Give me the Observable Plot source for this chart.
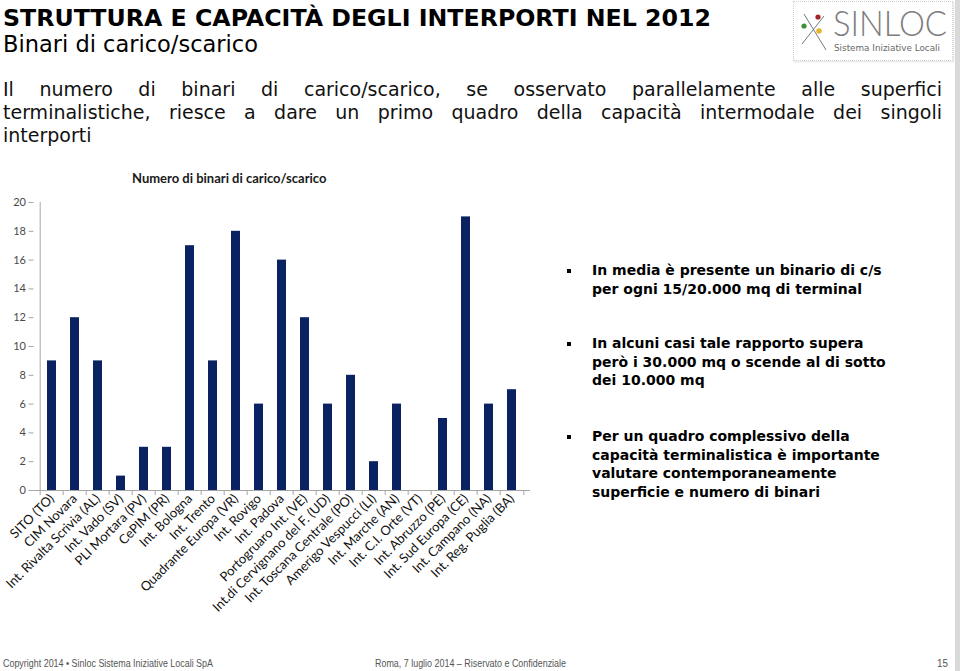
<!DOCTYPE html>
<html><head><meta charset="utf-8">
<script src="https://cdn.jsdelivr.net/npm/d3@7"></script>
<script src="https://cdn.jsdelivr.net/npm/@observablehq/plot@0.6"></script>
<style>
body{margin:0;background:#fff;}
#page{position:relative;width:960px;height:671px;overflow:hidden;background:#fff;font-family:"DejaVu Sans",Verdana,sans-serif;color:#000;}
.abs{position:absolute;white-space:nowrap;}
.just{position:absolute;left:3px;width:939px;text-align:justify;text-align-last:justify;white-space:nowrap;font-size:19px;line-height:23px;color:#111;}
.bul{position:absolute;left:592px;font-weight:bold;font-size:14px;line-height:18.5px;white-space:nowrap;}
.sq{position:absolute;left:567px;width:4px;height:4px;background:#000;}
.foot{position:absolute;top:657px;font-family:"Liberation Sans Narrow","Arial Narrow","Liberation Sans",sans-serif;font-size:11px;color:#555;white-space:nowrap;transform-origin:left center;}
</style></head><body><div id="page">
<div class="abs" id="title" style="left:3px;top:4px;font-weight:bold;font-size:23.5px;line-height:28px;">STRUTTURA E CAPACITÀ DEGLI INTERPORTI NEL 2012</div>
<div class="abs" id="subtitle" style="left:3px;top:31px;font-size:22.5px;line-height:27px;">Binari di carico/scarico</div>

<div id="logo" style="position:absolute;left:793px;top:1px;width:158px;height:58px;border:1px dotted #cfcfcf;box-shadow:1px 1px 2px #e2e2e2;background:#fff;">
<svg width="34" height="50" style="position:absolute;left:4px;top:6px">
<line x1="6" y1="6" x2="28" y2="42" stroke="#555" stroke-width="0.8"/>
<line x1="26" y1="8" x2="4" y2="36" stroke="#555" stroke-width="0.8"/>
<circle cx="20" cy="9" r="2.6" fill="#a3262a"/>
<circle cx="6" cy="18" r="2.6" fill="#3f8f3a"/>
<circle cx="21" cy="23" r="2.8" fill="#e5b632"/>
</svg>
<div class="abs" id="sinloc" style="left:39px;top:-1px;font-family:Lato,sans-serif;font-weight:300;font-size:35px;line-height:42px;color:#7d7d7d;">SINLOC</div>
<div class="abs" id="sinsub" style="left:40px;top:40px;font-family:'DejaVu Sans',sans-serif;font-size:8.5px;line-height:12px;color:#6a6a6a;">Sistema Iniziative Locali</div>
</div>

<div class="just" style="top:78px;">Il numero di binari di carico/scarico, se osservato parallelamente alle superfici</div>
<div class="just" style="top:101px;">terminalistiche, riesce a dare un primo quadro della capacità intermodale dei singoli</div>
<div class="abs" style="left:3px;top:124px;font-size:19px;line-height:23px;color:#111;">interporti</div>

<div class="abs" id="ctitle" style="left:132px;top:170px;font-family:Lato,sans-serif;font-weight:bold;font-size:13px;line-height:16px;color:#1a1a1a;">Numero di binari di carico/scarico</div>

<div id="chart" style="position:absolute;left:0;top:170px;"></div>

<div class="sq" style="top:269px"></div>
<div class="bul" style="top:261px">In media è presente un binario di c/s<br>per ogni 15/20.000 mq di terminal</div>
<div class="sq" style="top:342px"></div>
<div class="bul" style="top:334px">In alcuni casi tale rapporto supera<br>però i 30.000 mq o scende al di sotto<br>dei 10.000 mq</div>
<div class="sq" style="top:435px"></div>
<div class="bul" style="top:427px">Per un quadro complessivo della<br>capacità terminalistica è importante<br>valutare contemporaneamente<br>superficie e numero di binari</div>

<div class="foot" id="f1" style="left:3px;">Copyright 2014 • Sinloc Sistema Iniziative Locali SpA</div>
<div class="foot" id="f2" style="left:375px;">Roma, 7 luglio 2014 – Riservato e Confidenziale</div>
<div class="foot" id="f3" style="left:937px;">15</div>

<div style="position:absolute;left:955px;top:0;width:5px;height:671px;background:#d9d9d9;"></div>
</div>
<script>
const categories = [
  "SITO (TO)", "CIM Novara", "Int. Rivalta Scrivia (AL)", "Int. Vado (SV)", "PLI Mortara (PV)",
  "CePIM (PR)", "Int. Bologna", "Int. Trento", "Quadrante Europa (VR)", "Int. Rovigo",
  "Int. Padova", "Portogruaro Int. (VE)", "Int.di Cervignano del F. (UD)", "Int. Toscana Centrale (PO)",
  "Amerigo Vespucci (LI)", "Int. Marche (AN)", "Int. C.I. Orte (VT)", "Int. Abruzzo (PE)",
  "Int. Sud Europa (CE)", "Int. Campano (NA)", "Int. Reg. Puglia (BA)"
];
const values = [9, 12, 9, 1, 3, 3, 17, 9, 18, 6, 16, 12, 6, 8, 2, 6, 0, 5, 19, 6, 7];
const yTicks = [0, 2, 4, 6, 8, 10, 12, 14, 16, 18, 20];

const data = categories.map((name, i) => ({name, value: values[i]}));
const W = 540, ML = 33.5, MR = 10;
const step = (W - ML - MR) / categories.length;
const axisColor = "#a6a6a6";

const chart = Plot.plot({
  width: W, height: 450,
  marginLeft: ML, marginRight: MR, marginTop: 32, marginBottom: 130,
  style: {fontFamily: "Lato, sans-serif", background: "transparent", overflow: "visible"},
  x: {domain: categories, paddingInner: 0.6, paddingOuter: 0.3},
  y: {domain: [0, 20]},
  marks: [
    Plot.barY(data, {x: "name", y: "value", fill: "#0b2262"}),
    Plot.ruleY([0], {stroke: axisColor}),
    Plot.ruleX([categories[0]], {dx: -step / 2, y1: 0, y2: 20, stroke: axisColor}),
    Plot.axisY({ticks: yTicks, tickSize: 5, tickPadding: 3, stroke: axisColor, fill: "#4a4a4a", fontSize: 11, label: null}),
    Plot.axisX({tickSize: 5, tickFormat: () => "", dx: -step / 2, stroke: axisColor, label: null}),
    Plot.axisX({ticks: [categories[categories.length - 1]], tickSize: 5, tickFormat: () => "", dx: step / 2, stroke: axisColor, label: null}),
    Plot.axisX({tickSize: 0, tickPadding: 6, tickRotate: -45, fontSize: 13, fill: "#111", label: null})
  ]
});
document.getElementById("chart").appendChild(chart);

function fit(id, w) {
  const el = document.getElementById(id);
  const cur = el.getBoundingClientRect().width;
  if (cur > 0) el.style.transform = `scaleX(${w / cur})`;
  el.style.transformOrigin = "left center";
}
fit("f1", 210);
fit("f2", 191);
fit("f3", 11);
fit("title", 708);
fit("sinloc", 114);
fit("sinsub", 106);
</script>
</body></html>
